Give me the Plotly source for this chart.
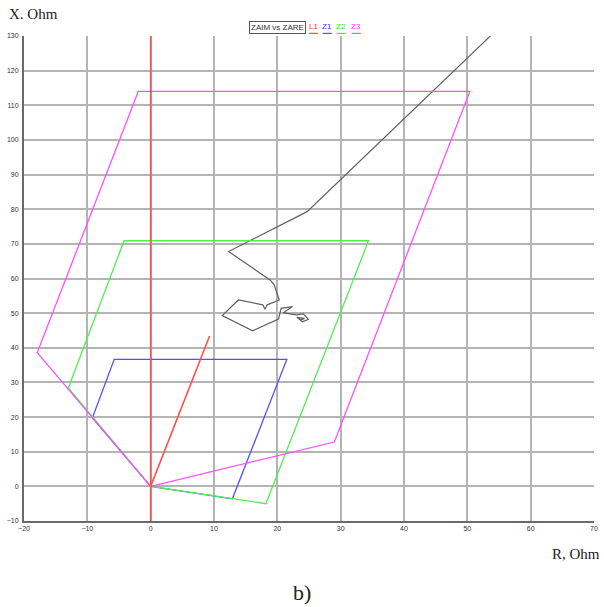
import plotly.graph_objects as go

# Impedance zones (R, X in Ohm)
l1_r = [0, 0, None, 0, 9.3]
l1_x = [-10, 130, None, 0, 43.4]

z1_r = [0, -9.2, -5.75, 21.5, 12.9, 0]
z1_x = [0, 19.8, 36.65, 36.65, -3.6, 0]

z2_r = [0, -13.0, -4.2, 34.4, 18.2, 0]
z2_x = [0, 28.4, 70.9, 70.9, -5.0, 0]

z3_r = [0, -17.9, -1.96, 50.4, 29.0, 0]
z3_x = [0, 38.6, 114.0, 114.0, 12.8, 0]

# measured impedance trajectory ZAIM vs ZARE
traj_r = [54.2, 24.7, 12.3, 18.9, 19.5, 20.3, 18.4, 18.05, 17.7, 13.85, 11.3,
          16.1, 20.2, 20.6, 22.4, 20.95, 23.1, 24.1, 24.9, 23.95, 23.1, 24.3, 23.6]
traj_x = [131.0, 79.3, 67.8, 59.5, 58.2, 53.8, 52.4, 51.1, 52.4, 53.8, 49.3,
          44.9, 48.3, 51.4, 51.9, 50.1, 49.5, 49.8, 48.2, 47.5, 48.8, 48.5, 48.0]

x_ticks = list(range(-20, 71, 10))
y_ticks = list(range(-10, 131, 10))

fig = go.Figure()
fig.add_trace(go.Scatter(x=traj_r, y=traj_x, mode='lines', name='ZAIM vs ZARE',
                         line=dict(color='#606060', width=1.2)))
fig.add_trace(go.Scatter(x=z1_r, y=z1_x, mode='lines', name='Z1',
                         line=dict(color='#5050ff', width=1.3)))
fig.add_trace(go.Scatter(x=z2_r, y=z2_x, mode='lines', name='Z2',
                         line=dict(color='#50f050', width=1.3)))
fig.add_trace(go.Scatter(x=z3_r, y=z3_x, mode='lines', name='Z3',
                         line=dict(color='#ff50ff', width=1.3)))
fig.add_trace(go.Scatter(x=l1_r, y=l1_x, mode='lines', name='L1',
                         line=dict(color='#ff5050', width=1.6), connectgaps=False))

axis_style = dict(showgrid=True, gridcolor='#b4b4b4', gridwidth=1.5, automargin=False,
                  zeroline=False, ticks='', showline=True, linecolor='#6a6a6a',
                  linewidth=2, tickfont=dict(family='Arial', size=7, color='#333333'))

fig.update_xaxes(range=[-20, 70], tickvals=x_ticks, **axis_style)
fig.update_yaxes(range=[-10, 130], tickvals=y_ticks, ticklabelstandoff=2, **axis_style)

# legend drawn as text, like the original program
legend_items = [('L1', '#ff3030', 0.508), ('Z1', '#3030ff', 0.532),
                ('Z2', '#30e030', 0.557), ('Z3', '#ff30ff', 0.583)]
serif = dict(family='Liberation Serif', size=15, color='#222222')
annotations = [
    dict(text='ZAIM vs ZARE', x=0.445, y=1.0185, xref='paper', yref='paper', yanchor='middle',
         showarrow=False, font=dict(family='Arial', size=8, color='#333333'),
         bordercolor='#555555', borderwidth=1, borderpad=1, bgcolor='white'),
    dict(text='X. Ohm', x=-0.029, y=1.045, xref='paper', yref='paper', xanchor='left',
         yanchor='middle', showarrow=False, font=serif),
    dict(text='R, Ohm', x=1.014, y=-0.069, xref='paper', yref='paper', xanchor='right',
         yanchor='middle', showarrow=False, font=serif),
    dict(text='b)', x=0.487, y=-0.148, xref='paper', yref='paper', yanchor='middle',
         showarrow=False, font=dict(family='Liberation Serif', size=22, color='#222222')),
]
shapes = []
for name, col, xp in legend_items:
    annotations.append(dict(text=name, x=xp, y=1.02, xref='paper', yref='paper',
                            yanchor='middle', showarrow=False,
                            font=dict(family='Arial', size=8, color=col)))
    shapes.append(dict(type='line', xref='paper', yref='paper', x0=xp - 0.008, x1=xp + 0.008,
                       y0=1.0055, y1=1.0055, line=dict(color=col, width=1)))

fig.update_layout(
    width=604, height=607,
    margin=dict(l=24, r=10, t=36, b=86),
    plot_bgcolor='white', paper_bgcolor='white',
    showlegend=False,
    annotations=annotations,
    shapes=shapes,
)

# drop the default 8px page margin so the figure fills the window
fig.write_html("out.html", config={'displayModeBar': False},
               post_script="document.body.style.margin = '0px';")
